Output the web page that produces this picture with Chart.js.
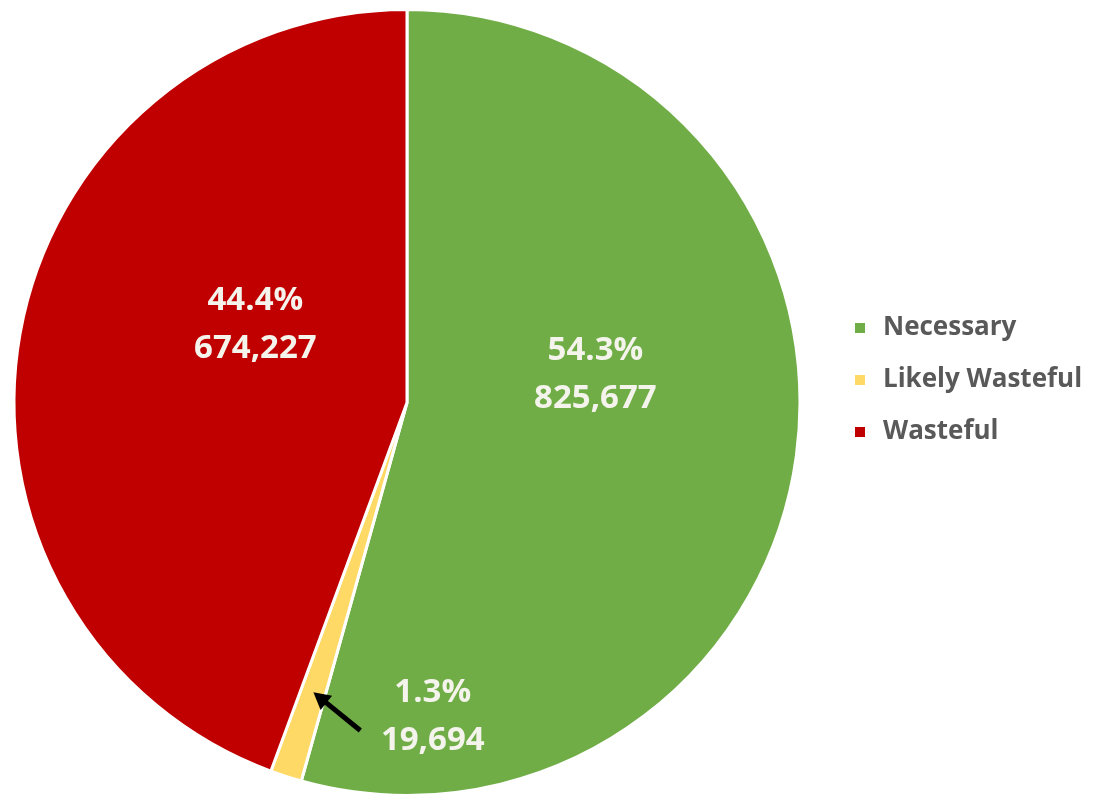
<!DOCTYPE html>
<html>
<head>
<meta charset="utf-8">
<script src="https://cdn.jsdelivr.net/npm/chart.js@4.4.0/dist/chart.umd.min.js"></script>
<style>
  html, body { margin: 0; padding: 0; background: #ffffff; }
  #wrap { width: 1095px; height: 799px; position: relative; }
</style>
</head>
<body>
<div id="wrap"><canvas id="pieChart"></canvas></div>
<script>
// data
const categories = ["Necessary", "Likely Wasteful", "Wasteful"];
const counts = [825677, 19694, 674227];
const percents = [54.3, 1.3, 44.4];
const colors = ["#70AD47", "#FFD966", "#C00000"];

// label placement (angle in degrees from 3 o'clock clockwise, distance as fraction of radius)
const labelSpots = [
  { angle: -8.7, dist: 0.485 },
  { angle: 85.3, dist: 0.80 },
  { angle: 207.5, dist: 0.435 },
];

const fmt = (n) => n.toLocaleString("en-US");

const pieLabels = {
  id: "pieLabels",
  afterDatasetsDraw(chart) {
    const ctx = chart.ctx;
    const arc = chart.getDatasetMeta(0).data[0];
    const cx = arc.x, cy = arc.y, r = arc.outerRadius;
    ctx.save();
    ctx.font = "bold 33px 'Open Sans', sans-serif";
    ctx.fillStyle = "#F4F4EC";
    ctx.textAlign = "center";
    ctx.textBaseline = "middle";
    labelSpots.forEach((s, i) => {
      const a = s.angle * Math.PI / 180;
      const x = cx + Math.cos(a) * r * s.dist;
      const y = cy + Math.sin(a) * r * s.dist;
      ctx.fillText(percents[i].toFixed(1) + "%", x, y - 23);
      ctx.fillText(fmt(counts[i]), x, y + 25);
    });

    // arrow pointing at the thin slice
    const aTail = 98.1 * Math.PI / 180, aHead = 107.9 * Math.PI / 180;
    const tx = cx + Math.cos(aTail) * r * 0.843, ty = cy + Math.sin(aTail) * r * 0.843;
    const hx = cx + Math.cos(aHead) * r * 0.775, hy = cy + Math.sin(aHead) * r * 0.775;
    const ang = Math.atan2(hy - ty, hx - tx);
    ctx.strokeStyle = "#000000";
    ctx.fillStyle = "#000000";
    ctx.lineWidth = 5;
    ctx.beginPath();
    ctx.moveTo(tx, ty);
    ctx.lineTo(hx - Math.cos(ang) * 12, hy - Math.sin(ang) * 12);
    ctx.stroke();
    ctx.beginPath();
    ctx.moveTo(hx, hy);
    ctx.lineTo(hx - Math.cos(ang - 0.5) * 19, hy - Math.sin(ang - 0.5) * 19);
    ctx.lineTo(hx - Math.cos(ang + 0.5) * 19, hy - Math.sin(ang + 0.5) * 19);
    ctx.closePath();
    ctx.fill();
    ctx.restore();
  },
  afterDraw(chart) {
    // legend on the right
    const ctx = chart.ctx;
    const left = chart.chartArea.right + 53;
    const top = 328;
    ctx.save();
    ctx.font = "bold 26px 'Open Sans', sans-serif";
    ctx.textBaseline = "middle";
    ctx.textAlign = "left";
    categories.forEach((c, i) => {
      const y = top + i * 52;
      ctx.fillStyle = colors[i];
      ctx.fillRect(left, y - 5, 10, 10);
      ctx.fillStyle = "#595959";
      ctx.fillText(c, left + 28, y);
    });
    ctx.restore();
  }
};

const ctx = document.getElementById("pieChart").getContext("2d");
new Chart(ctx, {
  type: "pie",
  data: {
    labels: categories,
    datasets: [
      {
        data: counts,
        backgroundColor: colors,
        borderColor: "#ffffff",
        borderWidth: 3,
      },
    ],
  },
  options: {
    responsive: true,
    maintainAspectRatio: false,
    animation: false,
    layout: { padding: { top: 8, bottom: 2, left: 12, right: 293 } },
    plugins: {
      legend: { display: false },
      tooltip: { enabled: false },
    },
  },
  plugins: [pieLabels],
});
</script>
</body>
</html>
